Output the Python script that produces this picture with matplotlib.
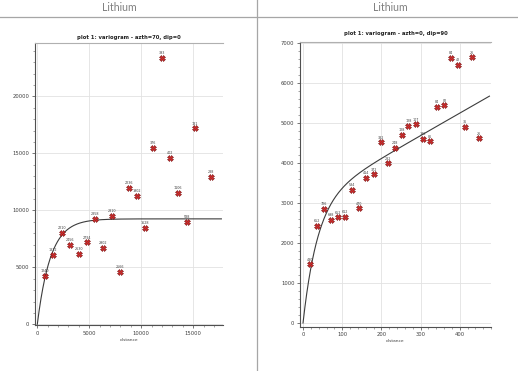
import numpy as np
import matplotlib
matplotlib.use("Agg")
import matplotlib.pyplot as plt
from matplotlib.ticker import MultipleLocator

# ---- data ----
header = "Lithium"
left_title = "plot 1: variogram - azth=70, dip=0"
right_title = "plot 1: variogram - azth=0, dip=90"
xlabel = "distance"

left_lag = [770, 1540, 2350, 3140, 3980, 4750, 5580, 6350, 7150, 7950,
            8790, 9560, 10380, 11150, 11960, 12760, 13560, 14360, 15130, 16700]
left_gamma = [4260, 6080, 7980, 6930, 6190, 7190, 9260, 6670, 9530, 4590,
              11980, 11280, 8470, 15465, 23360, 14560, 11490, 9000, 17190, 12950]
left_pairs = ["1240", "1872", "2210", "2456", "2630", "2794", "2858", "2902", "2810", "2566",
              "2236", "1902", "1628", "376", "393", "402", "1106", "588", "131", "288"]

right_lag = [17, 36, 54, 72, 90, 107, 125, 143, 162, 181, 199, 217, 234,
             252, 269, 288, 307, 324, 342, 361, 378, 396, 414, 432, 450]
right_gamma = [1465, 2430, 2846, 2572, 2639, 2647, 3329, 2864, 3628, 3713, 4512, 3988, 4370,
               4694, 4927, 4960, 4602, 4536, 5393, 5435, 6624, 6442, 4902, 6634, 4611]
right_pairs = ["480", "652", "726", "698", "652", "612", "534", "470", "414", "372", "332", "282", "248",
               "128", "128", "107", "196", "86", "84", "82", "84", "42", "36", "26", "26"]

# variogram model parameters
left_sill, left_range, left_hmax = 9250, 3800, 17700
right_sill, right_range, right_slope, right_hmax = 3000, 110, 5.6, 476

W, H = 518, 371
fig = plt.figure(figsize=(W / 100, H / 100), dpi=100)

# table-like header and dividers
fig.add_artist(plt.Line2D([0, 1], [1 - 16.5 / H] * 2, color="#a6a6a6", lw=0.9))
fig.add_artist(plt.Line2D([257 / W] * 2, [0, 1], color="#a6a6a6", lw=0.9))
fig.text(119.7 / W, 1 - 7.5 / H, header, ha="center", va="center",
         fontsize=7.6, color="#808080", family="Lato")
fig.text(390 / W, 1 - 7.5 / H, header, ha="center", va="center",
         fontsize=7.6, color="#808080", family="Lato")


def style(ax, xmaj, xmin, ymaj, ymin):
    ax.xaxis.set_major_locator(MultipleLocator(xmaj))
    ax.xaxis.set_minor_locator(MultipleLocator(xmin))
    ax.yaxis.set_major_locator(MultipleLocator(ymaj))
    ax.yaxis.set_minor_locator(MultipleLocator(ymin))
    ax.grid(True, which="major", color="#e2e2e2", lw=0.6)
    ax.set_axisbelow(True)
    ax.spines["right"].set_visible(False)
    ax.spines["top"].set_color("#b0b0b0")
    ax.spines["top"].set_linewidth(0.8)
    for s in ("left", "bottom"):
        ax.spines[s].set_color("#505050")
        ax.spines[s].set_linewidth(0.8)
    ax.tick_params(which="major", length=2.5, width=0.5, labelsize=3.8,
                   colors="#404040", pad=1.5)
    ax.tick_params(which="minor", length=1.5, width=0.4, colors="#606060")
    ax.set_xlabel(xlabel, fontsize=3.2, labelpad=1.5, color="#404040")


def points(ax, xs, ys, labels, dy):
    ax.plot(xs, ys, linestyle="none", marker="X", ms=4.2,
            mfc="#d42a2a", mec="#7a1414", mew=0.4, zorder=3)
    for x, y, t in zip(xs, ys, labels):
        ax.text(x, y + dy, t, ha="center", va="bottom", fontsize=2.4,
                color="#404040", zorder=4)


# left panel
axL = fig.add_axes([35 / W, 1 - 325 / H, 188 / W, 282 / H])
h = np.linspace(0, left_hmax, 400)
axL.plot(h, left_sill * (1 - np.exp(-3 * h / left_range)), color="#3c3c3c", lw=0.8, zorder=2)
points(axL, left_lag, left_gamma, left_pairs, 250)
axL.set_xlim(-221, 17856)
axL.set_ylim(-61, 24680)
style(axL, 5000, 1000, 5000, 1000)
axL.set_title(left_title, fontsize=3.8, fontweight="bold", pad=3, color="#222222")

# right panel
axR = fig.add_axes([300 / W, 1 - 326.7 / H, 191 / W, 284.4 / H])
h = np.linspace(0, right_hmax, 400)
axR.plot(h, right_sill * (1 - np.exp(-3 * h / right_range)) + right_slope * h,
         color="#3c3c3c", lw=0.8, zorder=2)
points(axR, right_lag, right_gamma, right_pairs, 70)
axR.set_xlim(-7.7, 480)
axR.set_ylim(-92, 7010)
style(axR, 100, 20, 1000, 200)
axR.set_title(right_title, fontsize=3.8, fontweight="bold", pad=5, color="#222222")

fig.savefig("out.png", dpi=100)
